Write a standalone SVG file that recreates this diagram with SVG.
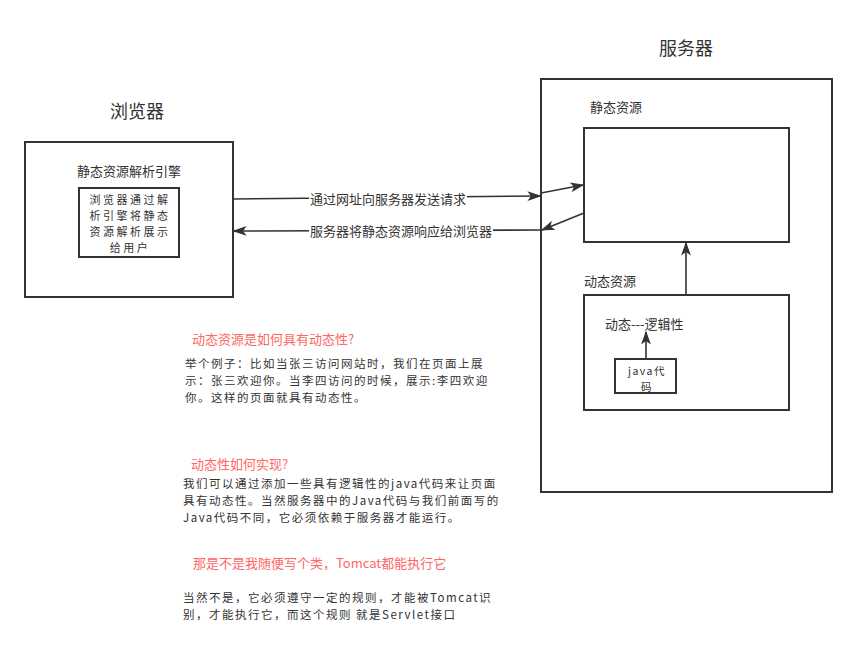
<svg xmlns="http://www.w3.org/2000/svg" width="857" height="660" viewBox="0 0 857 660">
<defs>
<marker id="ahb" viewBox="0 0 10 10" refX="9" refY="5" markerWidth="14" markerHeight="14" markerUnits="userSpaceOnUse" orient="auto">
<path d="M0,1.5 L10,5 L0,8.5 L2.5,5 Z" fill="#333"/>
</marker>
</defs>
<style>
text{font-family:"Noto Sans CJK SC","Liberation Sans",sans-serif;fill:#333;font-size:13px;dominant-baseline:central}
.title{font-size:18px}
.red{fill:#FF6666}
.box{fill:#fff;stroke:#333;stroke-width:2}
.ln{fill:none;stroke:#333;stroke-width:1.6}
.lbl{text-anchor:middle}
.p{font-size:11.5px;letter-spacing:1.5px}
.in{font-size:11px;letter-spacing:2.5px}
.jv{font-size:10.5px;letter-spacing:1.5px}
</style>
<rect width="857" height="660" fill="#fff"/>

<g id="browser">
<text class="title lbl" x="137" y="110">浏览器</text>
<rect class="box" x="25" y="142" width="208" height="155"/>
<text class="lbl" x="129" y="170">静态资源解析引擎</text>
</g>
<g id="browser-engine">
<rect class="box" x="79" y="188" width="100" height="69"/>
<text class="lbl in" x="130" y="199">浏览器通过解</text>
<text class="lbl in" x="130" y="215">析引擎将静态</text>
<text class="lbl in" x="130" y="231">资源解析展示</text>
<text class="lbl in" x="130" y="247">给用户</text>
</g>

<g id="server">
<text class="title lbl" x="686" y="47">服务器</text>
<rect class="box" x="541" y="79" width="291" height="413"/>
<text x="590" y="106">静态资源</text>
<text x="584" y="280">动态资源</text>
</g>
<g id="static">
<rect class="box" x="584" y="128" width="205" height="114"/>
</g>
<g id="dynamic">
<rect class="box" x="584" y="295" width="205" height="115"/>
<text x="605" y="323">动态---逻辑性</text>
</g>
<g id="java">
<rect class="box" x="615" y="359" width="61" height="34"/>
<text class="lbl jv" x="647" y="370.5">java代</text>
<text class="lbl jv" x="647" y="386">码</text>
</g>

<g id="connectors">
<line class="ln" x1="233" y1="199" x2="540" y2="196" marker-end="url(#ahb)"/>
<line class="ln" x1="541" y1="193" x2="583" y2="185" marker-end="url(#ahb)"/>
<line class="ln" x1="584" y1="213" x2="542" y2="230" marker-end="url(#ahb)"/>
<line class="ln" x1="541" y1="230" x2="234" y2="231" marker-end="url(#ahb)"/>
<line class="ln" x1="686" y1="295" x2="686" y2="243" marker-end="url(#ahb)"/>
<line class="ln" x1="646" y1="359" x2="646" y2="332" marker-end="url(#ahb)"/>
<rect x="309" y="190" width="158" height="17" fill="#fff"/>
<text class="lbl" x="388" y="198">通过网址向服务器发送请求</text>
<rect x="309" y="222" width="184" height="17" fill="#fff"/>
<text class="lbl" x="401" y="230">服务器将静态资源响应给浏览器</text>
</g>

<g id="notes">
<text class="red" x="192" y="338">动态资源是如何具有动态性?</text>
<text class="p" x="185" y="363">举个例子：比如当张三访问网站时，我们在页面上展</text>
<text class="p" x="185" y="380">示：张三欢迎你。当李四访问的时候，展示:李四欢迎</text>
<text class="p" x="185" y="397">你。这样的页面就具有动态性。</text>
<text class="red" x="191" y="463">动态性如何实现?</text>
<text class="p" x="183" y="483">我们可以通过添加一些具有逻辑性的java代码来让页面</text>
<text class="p" x="183" y="500">具有动态性。当然服务器中的Java代码与我们前面写的</text>
<text class="p" x="183" y="517">Java代码不同，它必须依赖于服务器才能运行。</text>
<text class="red" x="193" y="562">那是不是我随便写个类，Tomcat都能执行它</text>
<text class="p" x="183" y="597">当然不是，它必须遵守一定的规则，才能被Tomcat识</text>
<text class="p" x="183" y="614">别，才能执行它，而这个规则 就是Servlet接口</text>
</g>
</svg>
